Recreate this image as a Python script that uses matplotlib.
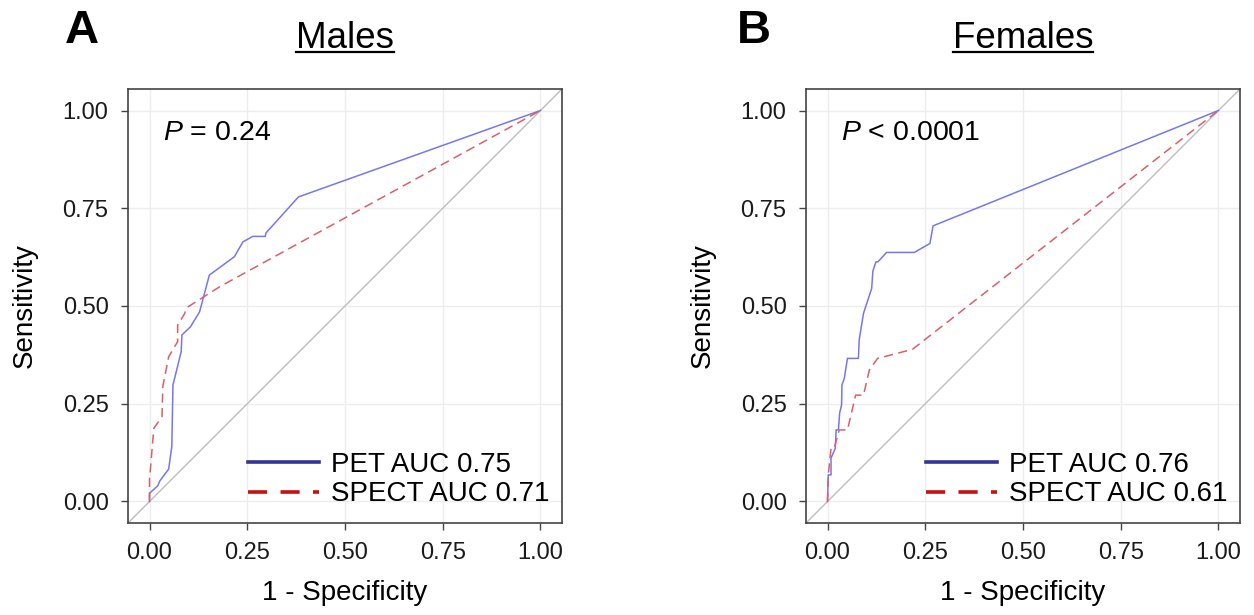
import matplotlib
matplotlib.use("Agg")
import matplotlib.pyplot as plt
from matplotlib.lines import Line2D

plt.rcParams['font.family'] = ['Liberation Sans', 'DejaVu Sans']
plt.rcParams['mathtext.fontset'] = 'custom'
plt.rcParams['mathtext.rm'] = 'Liberation Sans'
plt.rcParams['mathtext.it'] = 'Liberation Sans:italic'

# ---- data (1 - specificity, sensitivity) ----
male_pet_x = [0, 0, 0.021, 0.026, 0.049, 0.057, 0.060, 0.081, 0.083, 0.105, 0.128, 0.135, 0.153,
              0.217, 0.239, 0.264, 0.296, 0.298, 0.381, 1.0]
male_pet_y = [0, 0.021, 0.040, 0.052, 0.083, 0.140, 0.298, 0.383, 0.426, 0.447, 0.485, 0.511, 0.579,
              0.626, 0.664, 0.678, 0.678, 0.687, 0.779, 1.0]
male_spect_x = [0, 0, 0.011, 0.032, 0.034, 0.049, 0.072, 0.072, 0.090, 0.094, 0.179, 1.0]
male_spect_y = [0, 0.055, 0.187, 0.217, 0.294, 0.370, 0.409, 0.451, 0.481, 0.495, 0.549, 1.0]

female_pet_x = [0, 0.002, 0.009, 0.009, 0.020, 0.022, 0.028, 0.031, 0.036, 0.037, 0.043, 0.051,
                0.079, 0.081, 0.092, 0.113, 0.116, 0.124, 0.129, 0.151, 0.222, 0.262, 0.270, 1.0]
female_pet_y = [0, 0.068, 0.068, 0.111, 0.136, 0.183, 0.183, 0.226, 0.247, 0.298, 0.315, 0.366,
                0.366, 0.413, 0.481, 0.545, 0.589, 0.613, 0.613, 0.637, 0.637, 0.660, 0.705, 1.0]
female_spect_x = [0, 0.002, 0.009, 0.017, 0.030, 0.051, 0.072, 0.092, 0.107, 0.128, 0.217, 1.0]
female_spect_y = [0, 0.068, 0.136, 0.136, 0.183, 0.183, 0.272, 0.272, 0.336, 0.366, 0.389, 1.0]

ticks = [0.0, 0.25, 0.5, 0.75, 1.0]
tick_labels = ["0.00", "0.25", "0.50", "0.75", "1.00"]
panel_letters = ["A", "B"]
panel_titles = ["Males", "Females"]
p_texts = [r"$\it{P}$ = 0.24", r"$\it{P}$ < 0.0001"]
legend_labels = [["PET AUC 0.75", "SPECT AUC 0.71"], ["PET AUC 0.76", "SPECT AUC 0.61"]]

curve_blue = "#7676f2"
curve_red = "#dc5f68"
leg_blue = "#333399"
leg_red = "#c81010"

W, H = 1254, 615
fig = plt.figure(figsize=(W / 100, H / 100), dpi=100)

panels = [
    (male_pet_x, male_pet_y, male_spect_x, male_spect_y, 128, 65),
    (female_pet_x, female_pet_y, female_spect_x, female_spect_y, 806, 737),
]

for i, (px, py, sx, sy, left, letter_x) in enumerate(panels):
    ax = fig.add_axes([left / W, (H - 523) / H, 434 / W, 434 / H])
    lo, hi = -0.055, 1.055
    ax.set_xlim(lo, hi)
    ax.set_ylim(lo, hi)
    ax.set_xticks(ticks)
    ax.set_yticks(ticks)
    ax.set_xticklabels(tick_labels)
    ax.set_yticklabels(tick_labels)
    ax.grid(True, color="#ededed", lw=1.0)
    ax.set_axisbelow(True)
    ax.plot([lo, hi], [lo, hi], color="#bdbdbd", lw=1.0, zorder=2)
    ax.plot(px, py, color=curve_blue, lw=1.1, zorder=3)
    ax.plot(sx, sy, color=curve_red, lw=1.1, ls=(0, (6, 3.5)), zorder=3)
    for s in ax.spines.values():
        s.set_color("#444444")
        s.set_linewidth(1.2)
    ax.tick_params(axis="both", direction="out", length=5, width=1.0, color="#444444",
                   labelsize=17, labelcolor="#1a1a1a")
    ax.tick_params(axis="x", pad=9)
    ax.tick_params(axis="y", pad=9)
    ax.set_xlabel("1 - Specificity", fontsize=20)
    ax.set_ylabel("Sensitivity", fontsize=20)
    ax.xaxis.set_label_coords(0.5, -0.162)
    ax.xaxis.label.set_verticalalignment("center")
    ax.yaxis.set_label_coords(-0.237, 0.5)
    ax.yaxis.label.set_verticalalignment("center")
    ax.text(35 / 434, 0.899, p_texts[i], transform=ax.transAxes, fontsize=20.5,
            va="center", ha="left")
    handles = [Line2D([0], [0], color=leg_blue, lw=2.6),
               Line2D([0], [0], color=leg_red, lw=2.6, ls=(0, (5.3, 3.7)))]
    ax.legend(handles, legend_labels[i], loc="lower right", bbox_to_anchor=(1.0, 0.007),
              frameon=False, fontsize=20, handlelength=2.55, handletextpad=0.43,
              labelspacing=0.12, borderaxespad=0.05)
    # panel letter and title
    cx = (left + 217) / W
    fig.text(letter_x / W, 1 - 43 / H, panel_letters[i], fontsize=34, fontweight="bold",
             ha="left", va="baseline")
    fig.text(cx, 1 - 48 / H, panel_titles[i], fontsize=26.5, ha="center", va="baseline")

fig.canvas.draw()
# underline titles
r = fig.canvas.get_renderer()
for txt in fig.texts:
    if txt.get_text() in panel_titles:
        bb = txt.get_window_extent(renderer=r)
        y = 1 - 52 / H
        fig.add_artist(Line2D([bb.x0 / W, bb.x1 / W], [y, y], color="black", lw=1.6))

fig.savefig("out.png", dpi=100)
